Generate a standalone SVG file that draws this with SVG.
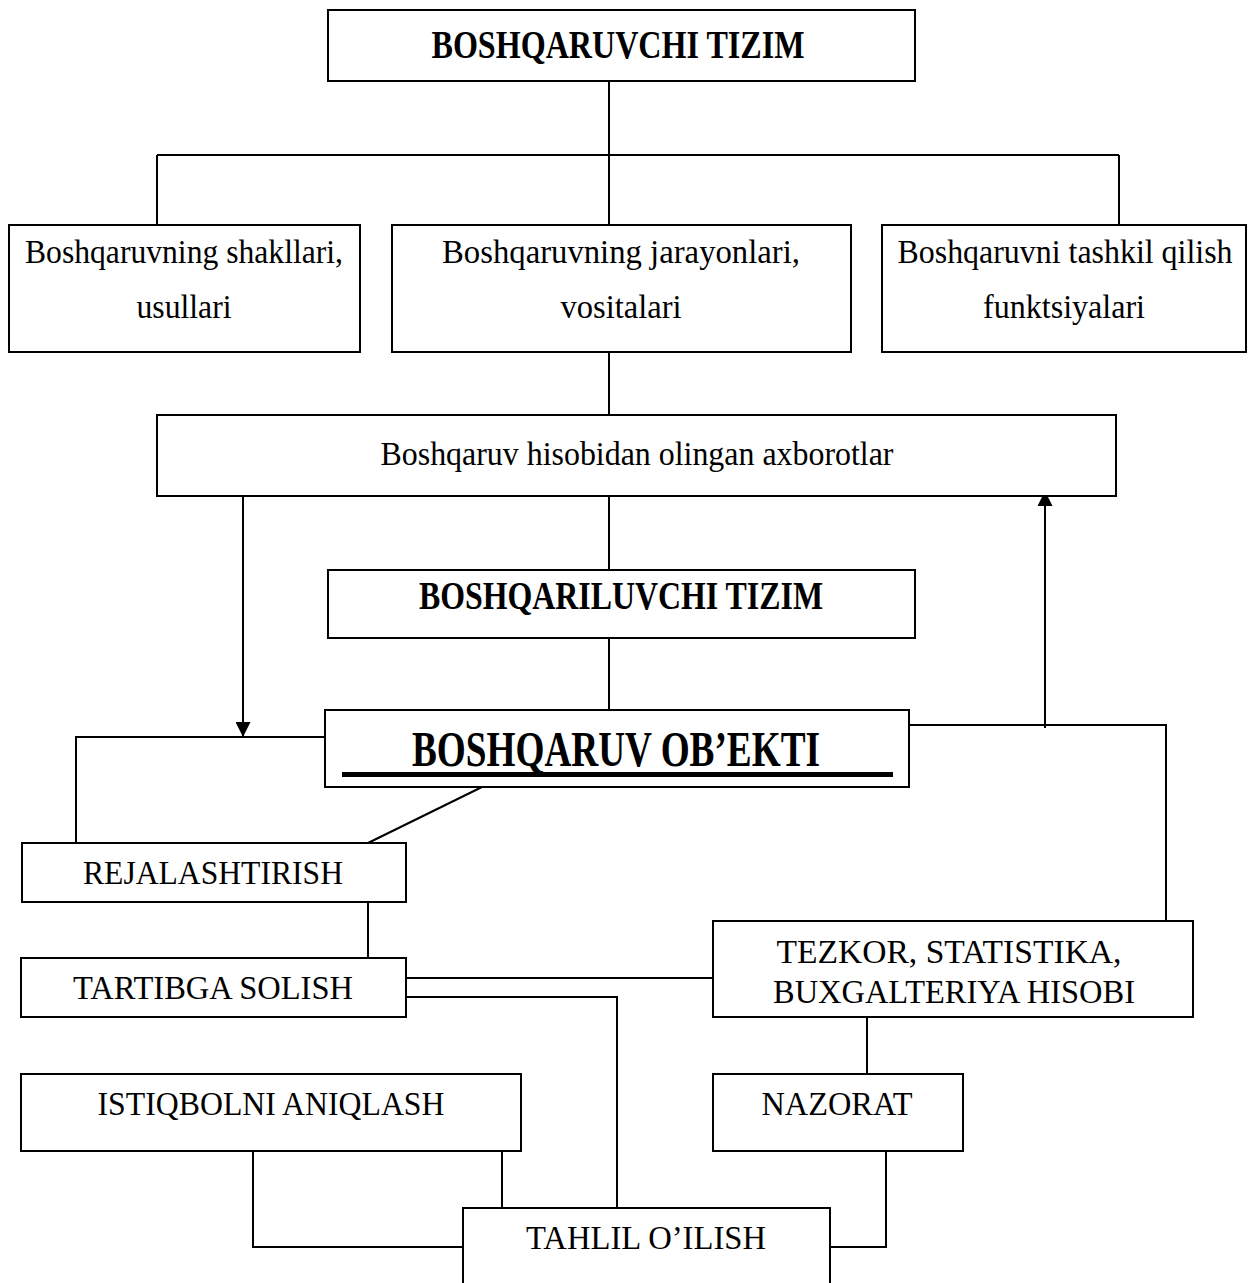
<svg xmlns="http://www.w3.org/2000/svg" width="1254" height="1283" viewBox="0 0 1254 1283">
  <style>
    .box { fill: #fff; stroke: #000; stroke-width: 2; }
    .ln { fill: none; stroke: #000; stroke-width: 2; }
    .t { font-family: "Liberation Serif", "Times New Roman", serif; font-size: 33px; fill: #000; text-anchor: middle; }
    .b { font-weight: bold; font-size: 39px; }
    .big { font-weight: bold; font-size: 50px; }
  </style>
  <defs>
    <marker id="arr" viewBox="0 0 15 15" refX="15" refY="7.5" markerWidth="15" markerHeight="15" markerUnits="userSpaceOnUse" orient="auto">
      <path d="M0,0 L15,7.5 L0,15 z" fill="#000"/>
    </marker>
  </defs>

  <g id="connectors">
    <!-- top tree -->
    <path class="ln" d="M609,81 V155 M157,155 H1119 M157,155 V225 M609,155 V225 M1119,155 V225"/>
    <path class="ln" d="M609,352 V415"/>
    <path class="ln" d="M609,496 V570"/>
    <path class="ln" d="M609,638 V710"/>
    <!-- feedback loop -->
    <path class="ln" d="M243,496 V737" marker-end="url(#arr)"/>
    <path class="ln" d="M325,737 H76 V843"/>
    <path class="ln" d="M909,725 H1166 V921"/>
    <path class="ln" d="M1045,728 V491" marker-end="url(#arr)"/>
    <path class="ln" d="M482,787 L368,843"/>
    <!-- lower chain -->
    <path class="ln" d="M368,902 V958"/>
    <path class="ln" d="M406,978 H713"/>
    <path class="ln" d="M406,997 H617 V1208"/>
    <path class="ln" d="M867,1017 V1074"/>
    <path class="ln" d="M253,1151 V1247 H463"/>
    <path class="ln" d="M502,1151 V1208"/>
    <path class="ln" d="M886,1151 V1247 H830"/>
  </g>

  <g id="n-boshqaruvchi">
    <rect class="box" x="328" y="10" width="587" height="71"/>
    <text class="t b" x="618" y="58" textLength="373" lengthAdjust="spacingAndGlyphs">BOSHQARUVCHI TIZIM</text>
  </g>
  <g id="n-shakllari">
    <rect class="box" x="9" y="225" width="351" height="127"/>
    <text class="t" x="184" y="263" textLength="318" lengthAdjust="spacingAndGlyphs">Boshqaruvning shakllari,</text>
    <text class="t" x="184" y="318" textLength="95" lengthAdjust="spacingAndGlyphs">usullari</text>
  </g>
  <g id="n-jarayonlari">
    <rect class="box" x="392" y="225" width="459" height="127"/>
    <text class="t" x="621" y="263" textLength="358" lengthAdjust="spacingAndGlyphs">Boshqaruvning jarayonlari,</text>
    <text class="t" x="621" y="318" textLength="121" lengthAdjust="spacingAndGlyphs">vositalari</text>
  </g>
  <g id="n-funktsiyalari">
    <rect class="box" x="882" y="225" width="364" height="127"/>
    <text class="t" x="1065" y="263" textLength="335" lengthAdjust="spacingAndGlyphs">Boshqaruvni tashkil qilish</text>
    <text class="t" x="1064" y="318" textLength="162" lengthAdjust="spacingAndGlyphs">funktsiyalari</text>
  </g>
  <g id="n-axborotlar">
    <rect class="box" x="157" y="415" width="959" height="81"/>
    <text class="t" x="637" y="465" textLength="513" lengthAdjust="spacingAndGlyphs">Boshqaruv hisobidan olingan axborotlar</text>
  </g>
  <g id="n-boshqariluvchi">
    <rect class="box" x="328" y="570" width="587" height="68"/>
    <text class="t b" x="621" y="609" textLength="404" lengthAdjust="spacingAndGlyphs">BOSHQARILUVCHI TIZIM</text>
  </g>
  <g id="n-obekti">
    <rect class="box" x="325" y="710" width="584" height="77"/>
    <text class="t big" x="616" y="766" textLength="408" lengthAdjust="spacingAndGlyphs">BOSHQARUV OB’EKTI</text>
    <rect x="342" y="772" width="551" height="5" fill="#000"/>
  </g>
  <g id="n-rejalashtirish">
    <rect class="box" x="22" y="843" width="384" height="59"/>
    <text class="t" x="213" y="884" textLength="260" lengthAdjust="spacingAndGlyphs">REJALASHTIRISH</text>
  </g>
  <g id="n-tartibga">
    <rect class="box" x="21" y="958" width="385" height="59"/>
    <text class="t" x="213" y="999" textLength="280" lengthAdjust="spacingAndGlyphs">TARTIBGA SOLISH</text>
  </g>
  <g id="n-tezkor">
    <rect class="box" x="713" y="921" width="480" height="96"/>
    <text class="t" x="949" y="963" textLength="345" lengthAdjust="spacingAndGlyphs">TEZKOR, STATISTIKA,</text>
    <text class="t" x="954" y="1003" textLength="362" lengthAdjust="spacingAndGlyphs">BUXGALTERIYA HISOBI</text>
  </g>
  <g id="n-istiqbol">
    <rect class="box" x="21" y="1074" width="500" height="77"/>
    <text class="t" x="271" y="1115" textLength="347" lengthAdjust="spacingAndGlyphs">ISTIQBOLNI ANIQLASH</text>
  </g>
  <g id="n-nazorat">
    <rect class="box" x="713" y="1074" width="250" height="77"/>
    <text class="t" x="837" y="1115" textLength="151" lengthAdjust="spacingAndGlyphs">NAZORAT</text>
  </g>
  <g id="n-tahlil">
    <rect class="box" x="463" y="1208" width="367" height="90"/>
    <text class="t" x="646" y="1249" textLength="240" lengthAdjust="spacingAndGlyphs">TAHLIL O’ILISH</text>
  </g>
</svg>
